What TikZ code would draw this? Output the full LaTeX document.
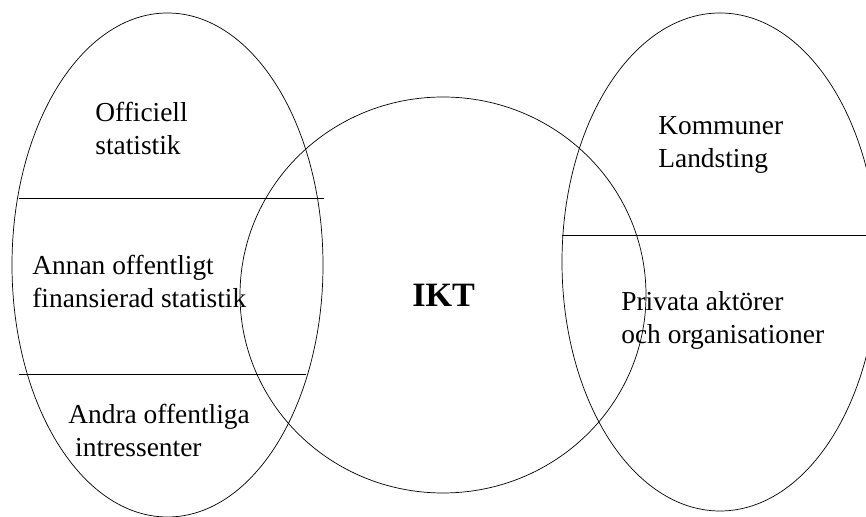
\documentclass[tikz,border=0pt]{standalone}
\usepackage{fontspec}
\setmainfont{Liberation Serif}
\begin{document}
\begin{tikzpicture}[
  lbl/.style={inner sep=0pt, anchor=base west, align=left,
    font=\fontsize{15.6}{18.8}\selectfont},
  ikt/.style={inner sep=0pt, anchor=base west,
    font=\fontsize{19.4}{23}\selectfont\bfseries}]
\useasboundingbox (0,0) rectangle (17.32,10.34);

% left one
\draw (3.35,5.04) ellipse [x radius=3.11, y radius=5.04];
\draw (0.38,6.38) -- (6.48,6.38);
\draw (0.38,2.86) -- (6.12,2.86);
% base of a two-line node is the base of its last line
\node (offstat) [lbl] at (1.90,7.24) {Officiell\\statistik};
\node (annan)   [lbl] at (0.64,4.18) {Annan offentligt\\finansierad statistik};
\node (andra)   [lbl] at (1.36,1.20) {Andra offentliga\\\hspace{0.25em}intressenter};

% middle one
\draw (8.86,4.44) ellipse [x radius=4.06, y radius=3.96];
\node (ikt) [ikt] at (8.24,4.20) {IKT};

% right one
\draw (14.40,5.10) ellipse [x radius=3.16, y radius=4.98];
\draw (11.24,5.64) -- (17.32,5.64);
\node (kommun)  [lbl] at (13.16,6.98) {Kommuner\\Landsting};
\node (privata) [lbl] at (12.42,3.46) {Privata aktörer\\och organisationer};

\end{tikzpicture}
\end{document}
